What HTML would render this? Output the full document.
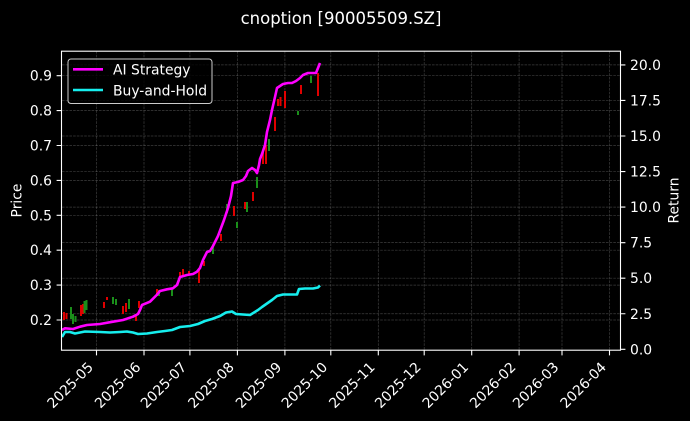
<!DOCTYPE html>
<html><head><meta charset="utf-8"><style>
html,body{margin:0;padding:0;background:#000;}
svg{display:block;font-family:"DejaVu Sans","Liberation Sans",sans-serif;}
</style></head><body>
<svg width="690" height="421" viewBox="0 0 690 421" xmlns="http://www.w3.org/2000/svg">
<rect width="690" height="421" fill="#000"/>
<text x="341" y="24" fill="#fff" font-size="16.5" text-anchor="middle">cnoption [90005509.SZ]</text>
<!-- grid -->
<g stroke="#b0b0b0" stroke-opacity="0.35" stroke-width="0.7" stroke-dasharray="2.6,1.1" fill="none">
<path d="M96.5 51V350M144 51V350M189.9 51V350M237.4 51V350M284.9 51V350M330.8 51V350M378.3 51V350M424.2 51V350M471.7 51V350M519.1 51V350M562 51V350M609.5 51V350"/>
<path d="M62 75.7H620M62 110.6H620M62 145.5H620M62 180.4H620M62 215.3H620M62 250.2H620M62 285.1H620M62 320H620"/>
<path d="M62 64.9H620M62 100.45H620M62 136H620M62 171.55H620M62 207.1H620M62 242.65H620M62 278.2H620M62 313.75H620"/>
</g>
<!-- candles -->
<g fill="#e00000">
<rect x="63" y="312" width="2" height="8"/><rect x="65.5" y="313" width="2" height="6"/>
<rect x="80" y="305" width="2" height="11"/><rect x="82" y="304" width="2" height="10"/>
<rect x="103" y="302" width="2" height="6"/><rect x="106" y="297" width="2" height="3"/>
<rect x="122" y="306" width="2" height="8"/><rect x="125" y="303" width="2" height="9"/>
<rect x="135" y="314" width="2" height="7"/><rect x="138" y="301" width="2" height="7"/>
<rect x="156" y="289" width="2" height="7"/><rect x="179" y="272" width="2" height="6"/>
<rect x="182" y="269" width="2" height="7"/><rect x="188" y="271" width="2" height="3"/>
<rect x="198" y="270" width="2" height="13"/><rect x="203" y="261" width="2" height="5"/>
<rect x="220" y="234" width="2" height="7"/><rect x="233" y="206" width="2" height="10"/>
<rect x="244" y="202" width="2" height="7"/><rect x="252" y="192" width="2" height="9"/>
<rect x="262" y="150" width="2" height="14"/><rect x="265" y="145" width="2" height="19"/>
<rect x="274" y="117" width="2" height="14"/><rect x="277" y="99" width="2" height="7"/>
<rect x="279.5" y="97" width="2" height="9"/><rect x="284" y="91" width="2" height="17"/>
<rect x="300" y="85" width="2" height="9"/><rect x="317" y="73" width="2" height="23"/>
</g>
<g fill="#1a8f1a">
<rect x="70" y="307" width="2" height="12"/><rect x="72" y="314" width="2" height="10"/>
<rect x="74.5" y="316" width="2" height="6"/><rect x="83.5" y="301" width="2" height="12"/>
<rect x="85.5" y="300" width="2" height="10"/><rect x="112" y="297" width="2" height="7"/>
<rect x="115" y="299" width="2" height="6"/><rect x="128" y="299" width="2" height="10"/>
<rect x="158" y="290" width="2" height="6"/><rect x="171" y="289" width="2" height="7"/>
<rect x="212" y="246" width="2" height="8"/><rect x="226" y="204" width="2" height="9"/>
<rect x="236" y="222" width="2" height="6"/><rect x="246" y="202" width="2" height="10"/>
<rect x="256" y="177" width="2" height="11"/><rect x="268" y="139" width="2" height="12"/>
<rect x="297" y="111" width="2" height="4"/><rect x="310" y="76" width="2" height="7"/>
</g>
<!-- cyan buy-and-hold -->
<polyline fill="none" stroke="#16eeee" stroke-width="2.6" stroke-linejoin="round" points="62,337 65,332 70,332 75,333.5 80,332.5 85,331.5 100,332 110,332.5 120,332 127,331.5 133,332.5 138,334 147,333.5 157,332 165,331 172,330 180,327 190,326 198,324 205,321 212,319 220,316 226,312.5 232,311.5 236,314 250,315 258,310 262,307 267,303.5 272,300 277,296 283,294.5 297,294.5 299,289 305,288.5 313,288.5 318,287.5 320,285.5"/>
<!-- magenta AI strategy -->
<polyline fill="none" stroke="#ff00ff" stroke-width="2.6" stroke-linejoin="round" points="62,330 65,328.3 73,329 80,326.7 87,325 100,324 113,321.7 123,320 133,316.7 138,314 140,310 142,305 150,301.7 156.7,295 160,291 167,289.3 173,288.3 177,285 180,277 187,275 193,274 197,271.7 200,268 203,260 207,252 210,251 213,246 215,242 218,236 221,228 224,220 228,208 231,196 233,183 238,182 243,180 246,176 248,171 252,168 255,170 257,173 259,165 260,159 262,154 265,145 267,132 270,120 272,110 275,97 277,88 280,86 283,84 288,83 292,83 296,81 300,78 303,75 308,73 316,73 318,68 320,63"/>
<!-- spines -->
<rect x="61.5" y="51.2" width="559" height="299" fill="none" stroke="#fff" stroke-width="1.1"/>
<!-- left ticks -->
<g stroke="#fff" stroke-width="1.1">
<path d="M56.6 75.7H61.5M56.6 110.6H61.5M56.6 145.5H61.5M56.6 180.4H61.5M56.6 215.3H61.5M56.6 250.2H61.5M56.6 285.1H61.5M56.6 320H61.5"/>
<path d="M620.5 64.9H625.4M620.5 100.45H625.4M620.5 136H625.4M620.5 171.55H625.4M620.5 207.1H625.4M620.5 242.65H625.4M620.5 278.2H625.4M620.5 313.75H625.4M620.5 349.3H625.4"/>
<path d="M96.5 350.5V355.4M144 350.5V355.4M189.9 350.5V355.4M237.4 350.5V355.4M284.9 350.5V355.4M330.8 350.5V355.4M378.3 350.5V355.4M424.2 350.5V355.4M471.7 350.5V355.4M519.1 350.5V355.4M562 350.5V355.4M609.5 350.5V355.4"/>
</g>
<g fill="#fff" font-size="13.9" text-anchor="end">
<text x="52" y="80.7">0.9</text><text x="52" y="115.6">0.8</text><text x="52" y="150.5">0.7</text><text x="52" y="185.4">0.6</text>
<text x="52" y="220.3">0.5</text><text x="52" y="255.2">0.4</text><text x="52" y="290.1">0.3</text><text x="52" y="325">0.2</text>
</g>
<g fill="#fff" font-size="13.9">
<text x="630" y="69.9">20.0</text><text x="630" y="105.45">17.5</text><text x="630" y="141">15.0</text><text x="630" y="176.55">12.5</text>
<text x="630" y="212.1">10.0</text><text x="630" y="247.65">7.5</text><text x="630" y="283.2">5.0</text><text x="630" y="318.75">2.5</text><text x="630" y="354.3">0.0</text>
</g>
<g fill="#fff" font-size="13.9" text-anchor="end">
<text transform="translate(94,368) rotate(-45)">2025-05</text>
<text transform="translate(141.5,368) rotate(-45)">2025-06</text>
<text transform="translate(187.4,368) rotate(-45)">2025-07</text>
<text transform="translate(234.9,368) rotate(-45)">2025-08</text>
<text transform="translate(282.4,368) rotate(-45)">2025-09</text>
<text transform="translate(328.3,368) rotate(-45)">2025-10</text>
<text transform="translate(375.8,368) rotate(-45)">2025-11</text>
<text transform="translate(421.7,368) rotate(-45)">2025-12</text>
<text transform="translate(469.2,368) rotate(-45)">2026-01</text>
<text transform="translate(516.6,368) rotate(-45)">2026-02</text>
<text transform="translate(559.5,368) rotate(-45)">2026-03</text>
<text transform="translate(607,368) rotate(-45)">2026-04</text>
</g>
<text transform="translate(21.5,200.5) rotate(-90)" fill="#fff" font-size="13.9" text-anchor="middle">Price</text>
<text transform="translate(678.5,200.5) rotate(-90)" fill="#fff" font-size="13.9" text-anchor="middle">Return</text>
<!-- legend -->
<rect x="68" y="59" width="144" height="44.5" rx="3" fill="#000" fill-opacity="0.8" stroke="#cccccc" stroke-width="1"/>
<line x1="73" y1="69.3" x2="103" y2="69.3" stroke="#ff00ff" stroke-width="2.6"/>
<line x1="73" y1="90" x2="103" y2="90" stroke="#16eeee" stroke-width="2.6"/>
<text x="113" y="74.5" fill="#fff" font-size="13.9">AI Strategy</text>
<text x="113" y="95.5" fill="#fff" font-size="13.9">Buy-and-Hold</text>
</svg>
</body></html>
